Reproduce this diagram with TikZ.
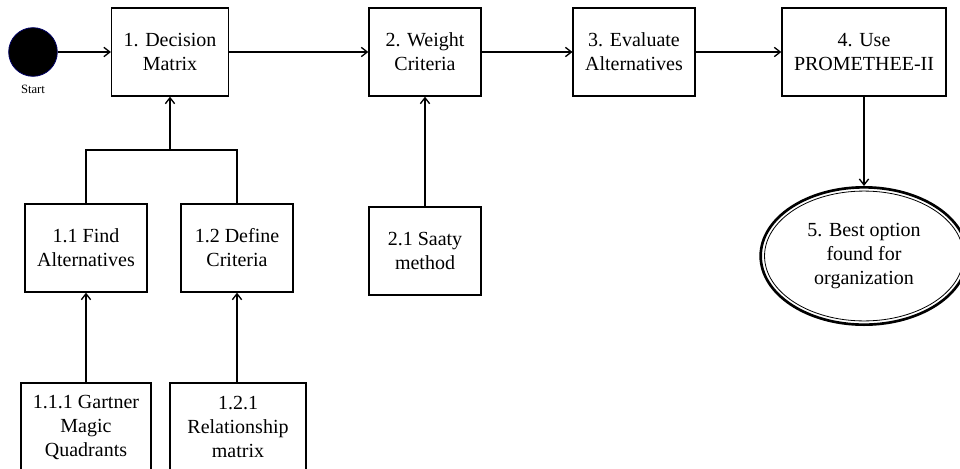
\documentclass[tikz,border=0pt]{standalone}
\usepackage{fontspec}
\setmainfont{Liberation Serif}
\usetikzlibrary{arrows.meta,shapes.geometric}
\begin{document}
\begin{tikzpicture}
		[x=0.75pt, y=-0.75pt, line width=1pt, >={Straight Barb[length=4.5pt,width=7pt]},
		every node/.style={align=center, font=\fontsize{15}{18}\selectfont},
		box/.style={draw, rectangle, minimum width=84pt, minimum height=66pt, inner xsep=9pt, inner ysep=0pt}]
		\clip (0,0) rectangle (960,468);
		\node[circle, fill=black, draw=blue!40!black, line width=0.6pt, minimum size=36.5pt, inner sep=0pt] (start) at (33,52) {};
		\node[font=\fontsize{9.5}{11}\selectfont] (startlabel) at (33,89) {Start};
		
		\node[box] (dm) at (170,52) {1. Decision\\Matrix};
		\node[box] (wc) at (425,52) {2. Weight\\Criteria};
		\node[box] (ea) at (634,52) {3. Evaluate\\Alternatives};
		\node[box] (pro) at (864,52) {4. Use\\PROMETHEE-II};
		\node[ellipse, draw, line width=2pt, minimum width=155pt, minimum height=103pt, inner sep=0pt] (best) at (864,256) {5. Best option\\found for\\organization};
		\draw[line width=0.6pt] (best.center) ellipse [x radius=74.6pt, y radius=48.7pt];
		
		\node[box] (fa) at (86,248) {1.1 Find\\Alternatives};
		\node[box] (dc) at (237,248) {1.2 Define\\Criteria};
		\node[box] (saaty) at (425,251) {2.1 Saaty\\method};
		\node[box] (gmq) at (86,427) {1.1.1 Gartner\\Magic\\Quadrants};
		\node[box, minimum width=102pt] (rm) at (238,427) {1.2.1\\Relationship\\matrix};
		\coordinate (join) at (170,150);
		
		\draw[->] (start) -- (dm);
		\draw[->] (dm) -- (wc);
		\draw[->] (wc) -- (ea);
		\draw[->] (ea) -- (pro);
		\draw[->] (pro) -- (best);
		\draw (fa.north) |- (join) -| (dc.north);
		\draw[->] (join) -- (dm.south);
		\draw[->] (saaty) -- (wc);
		\draw[->] (gmq) -- (fa);
		\draw[->] (rm.north -| dc.south) -- (dc);
\end{tikzpicture}
\end{document}
